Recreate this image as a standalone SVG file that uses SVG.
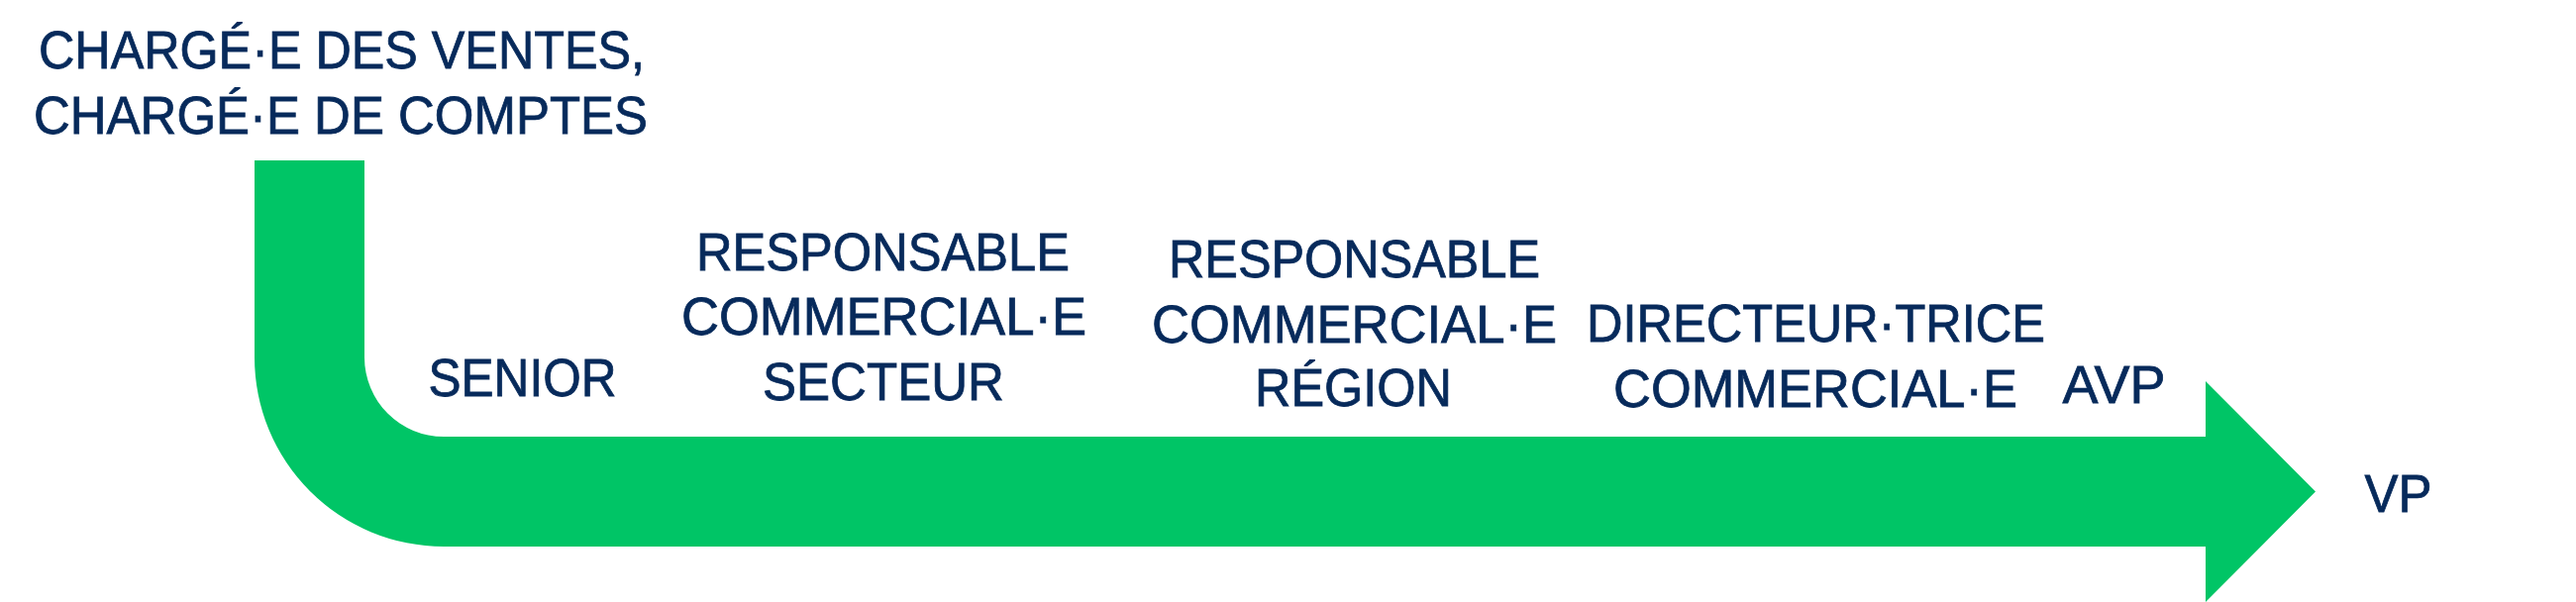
<svg xmlns="http://www.w3.org/2000/svg" width="2601" height="608" viewBox="0 0 2601 608">
  <style>
    .lbl { font-family: "Liberation Sans", Arial, sans-serif; font-size: 53px; fill: #072A5B; stroke: #072A5B; stroke-width: 0.8px; text-anchor: middle; }
    .flow { fill: #00C566; stroke: none; }
  </style>
  <rect width="2601" height="608" fill="#FFFFFF"/>
  <g id="connectors">
    <path class="flow" d="M257,162 L368,162 L368,361 A80,80 0 0 0 448,441 L2227,441 L2227,385 L2338,496.5 L2227,608 L2227,552 L448,552 A191,191 0 0 1 257,361 Z"/>
  </g>
  <g id="node-charge">
    <text class="lbl" x="345" y="69" textLength="612" lengthAdjust="spacingAndGlyphs">CHARGÉ·E DES VENTES,</text>
    <text class="lbl" x="344" y="135" textLength="620" lengthAdjust="spacingAndGlyphs">CHARGÉ·E DE COMPTES</text>
  </g>
  <g id="node-senior">
    <text class="lbl" x="527.5" y="400" textLength="190" lengthAdjust="spacingAndGlyphs">SENIOR</text>
  </g>
  <g id="node-secteur">
    <text class="lbl" x="891.5" y="273" textLength="377" lengthAdjust="spacingAndGlyphs">RESPONSABLE</text>
    <text class="lbl" x="892.5" y="338" textLength="409" lengthAdjust="spacingAndGlyphs">COMMERCIAL·E</text>
    <text class="lbl" x="892" y="404" textLength="244" lengthAdjust="spacingAndGlyphs">SECTEUR</text>
  </g>
  <g id="node-region">
    <text class="lbl" x="1367.5" y="280" textLength="375" lengthAdjust="spacingAndGlyphs">RESPONSABLE</text>
    <text class="lbl" x="1367.5" y="346" textLength="409" lengthAdjust="spacingAndGlyphs">COMMERCIAL·E</text>
    <text class="lbl" x="1366.5" y="410" textLength="199" lengthAdjust="spacingAndGlyphs">RÉGION</text>
  </g>
  <g id="node-directeur">
    <text class="lbl" x="1833.5" y="345" textLength="463" lengthAdjust="spacingAndGlyphs">DIRECTEUR·TRICE</text>
    <text class="lbl" x="1833" y="411" textLength="408" lengthAdjust="spacingAndGlyphs">COMMERCIAL·E</text>
  </g>
  <g id="node-avp">
    <text class="lbl" x="2134.5" y="407" textLength="104" lengthAdjust="spacingAndGlyphs">AVP</text>
  </g>
  <g id="node-vp">
    <text class="lbl" x="2421.5" y="517" textLength="68" lengthAdjust="spacingAndGlyphs">VP</text>
  </g>
</svg>
